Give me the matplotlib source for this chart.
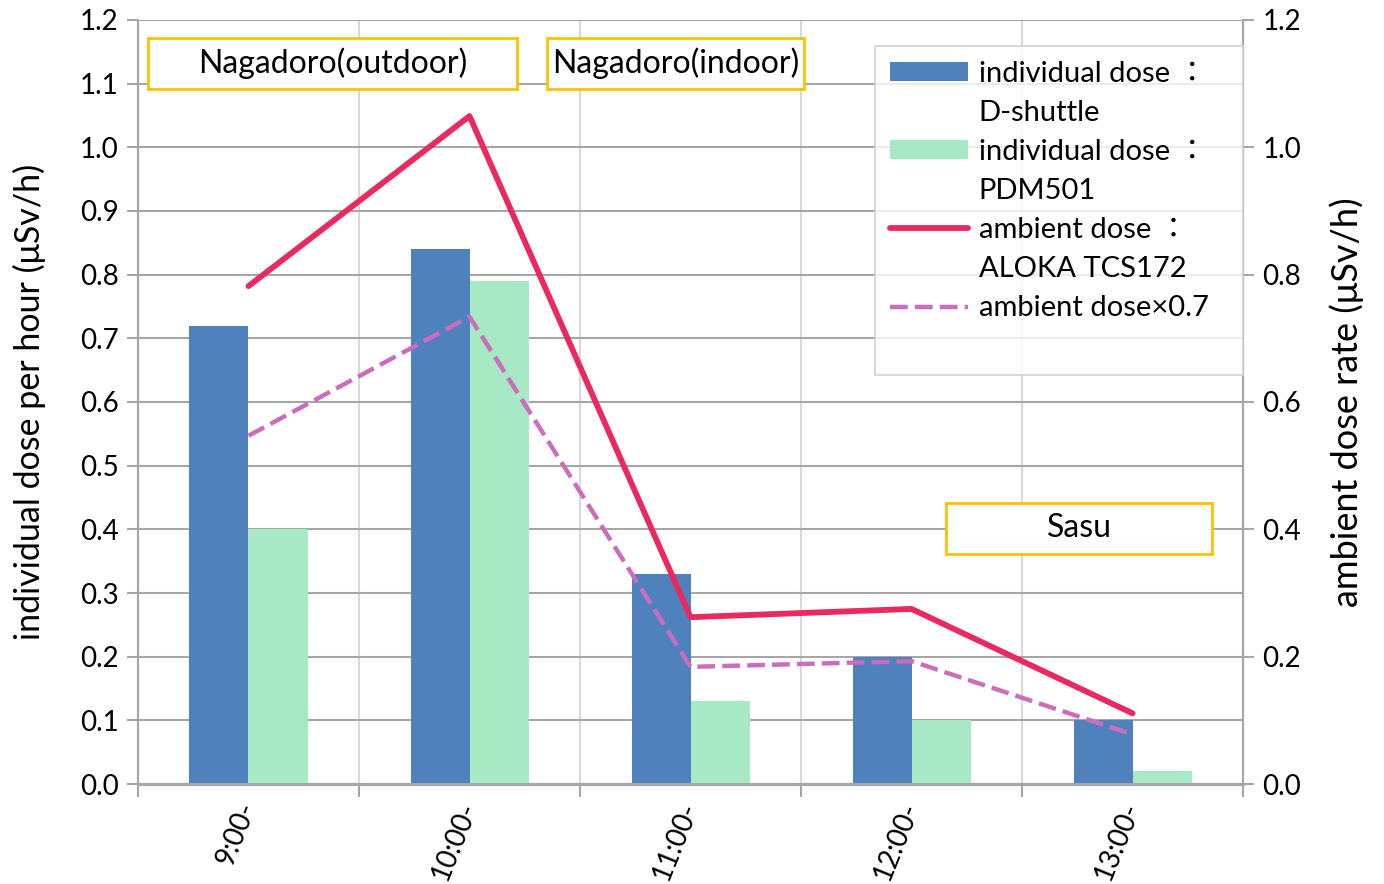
import matplotlib
matplotlib.use('Agg')
import matplotlib.pyplot as plt
from matplotlib.patches import Patch, Rectangle
from matplotlib.lines import Line2D
import numpy as np

plt.rcParams['font.family'] = ['Lato', 'Noto Sans CJK JP', 'DejaVu Sans']

times = ['9:00-', '10:00-', '11:00-', '12:00-', '13:00-']
dshuttle = [0.72, 0.84, 0.33, 0.20, 0.10]
pdm501 = [0.40, 0.79, 0.13, 0.10, 0.02]
aloka = [0.782, 1.049, 0.262, 0.275, 0.111]
aloka_07 = [0.547, 0.734, 0.184, 0.193, 0.078]

grid_c = '#A6A6A6'
blue = '#4F81BD'
green = '#A8E9C5'
red = '#E92A60'
pink = '#CC6CBE'
orange = '#FFC000'
fs = 21

fig = plt.figure(figsize=(13.84, 8.84), dpi=100)
ax = fig.add_axes([0.0997, 0.1131, 0.7985, 0.8643])
ax2 = ax.twinx()

x = np.arange(len(times))
w = 0.267
ax.bar(x - w / 2, dshuttle, width=w, color=blue, zorder=3)
ax.bar(x + w / 2, pdm501, width=w, color=green, zorder=3)

ax2.plot(x, aloka, color=red, lw=4.2, solid_capstyle='round', zorder=4)
ax2.plot(x, aloka_07, color=pink, lw=3.2, dashes=(4, 1.6), zorder=4)

ax.set_xlim(-0.5, len(times) - 0.5)
ax.set_ylim(0, 1.2)
ax2.set_ylim(0, 1.2)
ax.set_yticks(np.arange(0, 1.21, 0.1))
ax.set_yticklabels([f'{v:.1f}' for v in np.arange(0, 1.21, 0.1)])
ax2.set_yticks(np.arange(0, 1.21, 0.2))
ax2.set_yticklabels([f'{v:.1f}' for v in np.arange(0, 1.21, 0.2)])

ax.set_xticks(np.arange(-0.5, len(times), 1.0))
ax.set_xticklabels([])
ax.set_xticks(x, minor=True)
ax.set_xticklabels(times, minor=True, rotation=68, ha='right', va='center',
                   rotation_mode='anchor', fontsize=20)
ax.tick_params(axis='x', which='minor', length=0, pad=14)
ax.tick_params(axis='x', which='major', length=9, width=1.5, color=grid_c)
ax.tick_params(axis='y', length=8, width=1.5, color=grid_c, labelsize=20, pad=6)
ax2.tick_params(axis='y', length=8, width=1.5, color=grid_c, labelsize=20, pad=6)

ax.yaxis.grid(True, color=grid_c, lw=1.5, zorder=0)
for b in np.arange(0.5, len(times) - 1, 1.0):
    ax.axvline(b, color='#D9D9D9', lw=1.5, zorder=0)
ax.set_axisbelow(True)

for a in (ax, ax2):
    a.spines['top'].set_visible(False)
    a.spines['left'].set_color(grid_c)
    a.spines['right'].set_color(grid_c)
    a.spines['left'].set_linewidth(1.5)
    a.spines['right'].set_linewidth(1.5)
    a.spines['bottom'].set_color(grid_c)
    a.spines['bottom'].set_linewidth(2.2)

ax.set_ylabel('individual dose per hour (μSv/h)', fontsize=24.5, labelpad=24)
ax2.set_ylabel('ambient dose rate (μSv/h)', fontsize=26, rotation=90, labelpad=20)

# place boxes
boxes = [
    ('Nagadoro(outdoor)', 0.009, 0.910, 0.334, 0.066),
    ('Nagadoro(indoor)', 0.370, 0.910, 0.233, 0.066),
    ('Sasu', 0.731, 0.301, 0.241, 0.067),
]
for label, bx, by, bw, bh in boxes:
    ax2.add_patch(Rectangle((bx, by), bw, bh, transform=ax2.transAxes,
                            facecolor='white', edgecolor=orange, lw=2, zorder=6))
    ax2.text(bx + bw / 2, by + bh / 2, label, transform=ax2.transAxes,
             ha='center', va='center', fontsize=23, zorder=7)

blank = Patch(facecolor='none', edgecolor='none')
handles = [Patch(facecolor=blue), blank, Patch(facecolor=green), blank,
           Line2D([], [], color=red, lw=4.2, solid_capstyle='round'), blank,
           Line2D([], [], color=pink, lw=3.2, dashes=(4, 1.6)), blank]
labels = ['individual dose ：', 'D-shuttle', 'individual dose ：', 'PDM501',
          'ambient dose ：', 'ALOKA TCS172', 'ambient dose×0.7', '']
leg = ax2.legend(handles, labels, loc='upper left',
                 bbox_to_anchor=(0.667, 0.966, 0.333, 0.0), mode='expand',
                 fontsize=fs, frameon=True, fancybox=False, labelspacing=0.45,
                 handlelength=2.7, handleheight=0.6, handletextpad=0.35,
                 borderpad=0.5, borderaxespad=0)
leg.get_frame().set_edgecolor('#D0D0D0')
leg.get_frame().set_linewidth(1.5)
leg.set_zorder(8)

fig.savefig('out.png', dpi=100)
